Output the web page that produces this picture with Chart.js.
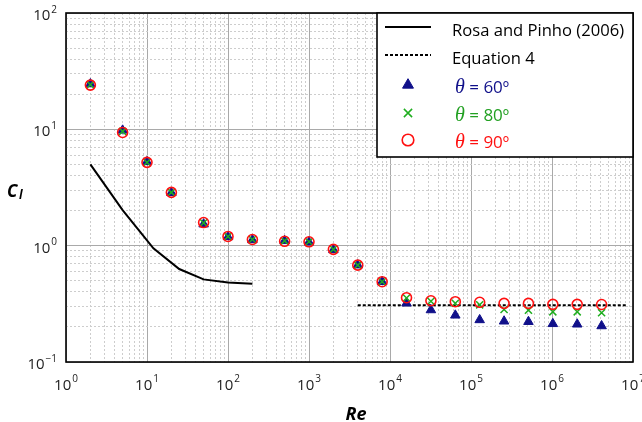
<!DOCTYPE html>
<html>
<head>
<meta charset="utf-8">
<script src="https://cdn.jsdelivr.net/npm/chart.js@4.4.1/dist/chart.umd.min.js"></script>
<style>
  html, body { margin: 0; padding: 0; background: #ffffff; }
  #wrap { width: 642px; height: 422px; }
</style>
</head>
<body>
<div id="wrap"><canvas id="c"></canvas></div>
<script>
// Lift coefficient vs Reynolds number
const reynolds = [2, 5, 10, 20, 50, 100, 200, 500, 1000, 2000, 4000, 8000, 16000, 32000,
                  64000, 128000, 256000, 512000, 1024000, 2048000, 4096000];
const cl60 = [24.5, 9.8, 5.25, 2.85, 1.53, 1.19, 1.12, 1.1, 1.07, 0.92, 0.68, 0.49,
              0.32, 0.28, 0.252, 0.23, 0.224, 0.222, 0.213, 0.211, 0.204];
const cl80 = [24.2, 9.6, 5.2, 2.87, 1.57, 1.2, 1.13, 1.1, 1.08, 0.93, 0.68, 0.49,
              0.355, 0.333, 0.32, 0.31, 0.283, 0.279, 0.27, 0.27, 0.265];
const cl90 = [24.0, 9.4, 5.2, 2.87, 1.58, 1.2, 1.13, 1.09, 1.08, 0.93, 0.68, 0.49,
              0.357, 0.336, 0.33, 0.326, 0.319, 0.319, 0.313, 0.313, 0.312];
const rosaRe = [2, 5, 12, 25, 50, 100, 200];
const rosaCl = [5.0, 2.02, 0.95, 0.63, 0.513, 0.483, 0.47];
const eq4Re = [4000, 8.5e6];
const eq4Cl = [0.308, 0.308];
const xExponents = [0, 1, 2, 3, 4, 5, 6, 7];
const yExponents = [-1, 0, 1, 2];

const SANS = '"Open Sans", "Noto Sans", sans-serif';
const NAVY = '#10108a';
const GREEN = '#1fae1f';
const RED = '#ff1010';

const pts = (xs, ys) => xs.map((x, i) => ({ x, y: ys[i] }));

function isDecade(v) {
  const l = Math.log10(v);
  return Math.abs(l - Math.round(l)) < 1e-9;
}

function logTicks(lo, hi) {
  const t = [];
  for (let e = lo; e < hi; e++) {
    for (let k = 1; k <= 9; k++) t.push({ value: k * Math.pow(10, e) });
  }
  t.push({ value: Math.pow(10, hi) });
  return t;
}

const gridColor = c => (c.tick && isDecade(c.tick.value)) ? '#a9a9a9' : '#cdcdcd';
const gridDash = c => (c.tick && isDecade(c.tick.value)) ? [] : [2, 2];

// "10" with a raised exponent
function drawPower(ctx, exp, x, y, align) {
  const base = '10';
  const sup = exp < 0 ? '\u2212' + Math.abs(exp) : String(exp);
  ctx.font = '15px ' + SANS;
  const wb = ctx.measureText(base).width;
  ctx.font = '10px ' + SANS;
  const ws = ctx.measureText(sup).width;
  const total = wb + ws + 1;
  const sx = align === 'right' ? x - total : x - total / 2;
  ctx.fillStyle = '#222';
  ctx.textAlign = 'left';
  ctx.textBaseline = 'alphabetic';
  ctx.font = '15px ' + SANS;
  ctx.fillText(base, sx, y);
  ctx.font = '10px ' + SANS;
  ctx.fillText(sup, sx + wb + 1, y - 7.5);
}

const overlay = {
  id: 'overlay',
  afterDraw(chart) {
    const { ctx, chartArea: a, scales: { x, y }, width } = chart;
    ctx.save();

    // keep the margin right of the frame clean
    ctx.fillStyle = '#fff';
    ctx.fillRect(a.right + 1, 0, width - a.right, a.bottom + 2);

    // plot frame
    ctx.strokeStyle = '#000';
    ctx.lineWidth = 1.6;
    ctx.strokeRect(a.left, a.top, a.right - a.left, a.bottom - a.top);

    // tick labels
    xExponents.forEach(e => drawPower(ctx, e, x.getPixelForValue(Math.pow(10, e)), a.bottom + 27.5, 'center'));
    yExponents.forEach(e => drawPower(ctx, e, a.left - 9, y.getPixelForValue(Math.pow(10, e)) + 7, 'right'));

    // axis titles
    ctx.fillStyle = '#000';
    ctx.textAlign = 'center';
    ctx.textBaseline = 'alphabetic';
    ctx.font = 'italic bold 18px ' + SANS;
    ctx.fillText('Re', 356, 420);
    ctx.textAlign = 'left';
    ctx.font = 'italic bold 17px ' + SANS;
    ctx.fillText('C', 7, 197);
    ctx.font = 'italic bold 12px ' + SANS;
    ctx.fillText('l', 19, 199);

    // legend box
    const bx = 377, by = a.top, bw = a.right - bx, bh = 144;
    ctx.fillStyle = '#fff';
    ctx.fillRect(bx, by, bw, bh);
    ctx.strokeStyle = '#000';
    ctx.lineWidth = 1.6;
    ctx.strokeRect(bx, by, bw, bh);

    const ds = chart.data.datasets;
    const rows = [27, 55, 84, 112, 139];
    const mx = 408, tx = 452;
    ds.forEach((d, i) => {
      const ry = rows[i];
      ctx.save();
      if (d.showLine) {
        ctx.strokeStyle = '#000';
        ctx.lineWidth = d.borderWidth;
        ctx.setLineDash(d.borderDash || []);
        ctx.beginPath();
        ctx.moveTo(385, ry); ctx.lineTo(431, ry);
        ctx.stroke();
      } else {
        ctx.strokeStyle = d.borderColor;
        ctx.fillStyle = d.backgroundColor;
        ctx.lineWidth = d.borderWidth;
        Chart.helpers.drawPoint(ctx, { pointStyle: d.pointStyle, radius: d.pointRadius + 0.8, borderWidth: d.borderWidth }, mx, ry + 1);
      }
      ctx.restore();

      ctx.textBaseline = 'middle';
      ctx.textAlign = 'left';
      if (d.label.startsWith('θ')) {
        ctx.fillStyle = d.legendColor;
        ctx.font = 'italic 20px "Liberation Serif", serif';
        ctx.fillText('θ', tx + 3, ry + 4);
        const w = ctx.measureText('θ').width;
        ctx.font = '17px ' + SANS;
        ctx.fillText(d.label.slice(1), tx + 3 + w, ry + 4);
      } else {
        ctx.fillStyle = '#000';
        ctx.font = '16.6px ' + SANS;
        ctx.fillText(d.label, tx, ry + 4);
      }
    });
    ctx.restore();
  }
};

new Chart(document.getElementById('c'), {
  type: 'scatter',
  data: {
    datasets: [
      {
        label: 'Rosa and Pinho (2006)',
        data: pts(rosaRe, rosaCl),
        showLine: true,
        borderColor: '#000',
        borderWidth: 2,
        pointRadius: 0,
        fill: false,
        order: 5
      },
      {
        label: 'Equation 4',
        data: pts(eq4Re, eq4Cl),
        showLine: true,
        borderColor: '#000',
        borderWidth: 2,
        borderDash: [3, 2],
        pointRadius: 0,
        fill: false,
        order: 4
      },
      {
        label: 'θ = 60º',
        data: pts(reynolds, cl60),
        pointStyle: 'triangle',
        pointRadius: 5.5,
        backgroundColor: NAVY,
        borderColor: NAVY,
        borderWidth: 1,
        legendColor: NAVY,
        order: 3
      },
      {
        label: 'θ = 80º',
        data: pts(reynolds, cl80),
        pointStyle: 'crossRot',
        pointRadius: 5,
        backgroundColor: GREEN,
        borderColor: GREEN,
        borderWidth: 1.5,
        legendColor: '#22a022',
        order: 2
      },
      {
        label: 'θ = 90º',
        data: pts(reynolds, cl90),
        pointStyle: 'circle',
        pointRadius: 5,
        backgroundColor: 'rgba(0,0,0,0)',
        borderColor: RED,
        borderWidth: 1.6,
        legendColor: RED,
        order: 1
      }
    ]
  },
  options: {
    responsive: true,
    maintainAspectRatio: false,
    animation: false,
    events: [],
    layout: { padding: { top: 13, right: 9, left: 0, bottom: 0 } },
    plugins: { legend: { display: false }, tooltip: { enabled: false } },
    scales: {
      x: {
        type: 'logarithmic',
        min: 1,
        max: 1e7,
        afterBuildTicks: s => { s.ticks = logTicks(0, 7); },
        afterFit: s => { s.height = 60; },
        ticks: { display: false, autoSkip: false },
        grid: { color: gridColor, lineWidth: 1, drawTicks: false },
        border: { display: false, dash: gridDash }
      },
      y: {
        type: 'logarithmic',
        min: 0.1,
        max: 100,
        afterBuildTicks: s => { s.ticks = logTicks(-1, 2); },
        afterFit: s => { s.width = 66; },
        ticks: { display: false, autoSkip: false },
        grid: { color: gridColor, lineWidth: 1, drawTicks: false },
        border: { display: false, dash: gridDash }
      }
    }
  },
  plugins: [overlay]
});
</script>
</body>
</html>
